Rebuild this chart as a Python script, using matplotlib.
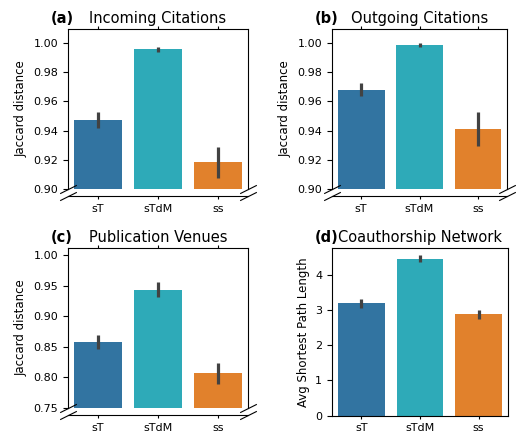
import matplotlib
matplotlib.use("Agg")
import matplotlib.pyplot as plt
import numpy as np

plt.rcParams['font.family'] = ['DejaVu Sans']

groups = ["sT", "sTdM", "ss"]
colors = ["#3274a1", "#2eaab8", "#e1812c"]

# bar heights and error bar ranges (low, high)
incoming = [0.9475, 0.9958, 0.9185]
incoming_err = [(0.9418, 0.9527), (0.9937, 0.9975), (0.9075, 0.9290)]

outgoing = [0.968, 0.9988, 0.9414]
outgoing_err = [(0.9636, 0.9725), (0.9975, 0.9998), (0.9293, 0.9530)]

venues = [0.858, 0.944, 0.807]
venues_err = [(0.847, 0.869), (0.931, 0.956), (0.790, 0.823)]

coauthor = [3.19, 4.45, 2.88]
coauthor_err = [(3.07, 3.31), (4.35, 4.57), (2.75, 3.00)]

W, H = 516, 433
fig = plt.figure(figsize=(W / 100, H / 100), dpi=100)


def px_axes(left, top, right, bottom):
    return fig.add_axes([left / W, 1 - bottom / H, (right - left) / W, (bottom - top) / H])


def draw_bars(ax, vals, errs):
    x = np.arange(len(groups))
    ax.bar(x, vals, width=0.8, color=colors, zorder=2)
    for xi, (lo, hi) in zip(x, errs):
        ax.plot([xi, xi], [lo, hi], color="#424242", lw=2.3, solid_capstyle="butt", zorder=3)
    ax.set_xlim(-0.5, 2.5)


def add_title(ax, tag, title):
    ax.set_title(title, fontsize=10.5, pad=4)
    ax.annotate(tag, xy=(-17 / (ax.get_position().width * W), 1.0), xycoords="axes fraction",
                xytext=(0, 4), textcoords="offset points",
                fontsize=10.5, fontweight="bold", ha="left", va="baseline")


def broken_panel(left, top, right, bottom, vals, errs, ylim, yticks, tag, title):
    ax = px_axes(left, top, right, bottom)
    draw_bars(ax, vals, errs)
    ax.set_ylim(*ylim)
    ax.set_yticks(yticks)
    ax.set_yticklabels([f"{t:.2f}" for t in yticks], fontsize=8)
    ax.set_ylabel("Jaccard distance", fontsize=8.5)
    ax.spines["bottom"].set_visible(False)
    ax.xaxis.tick_top()
    ax.set_xticks(range(len(groups)))
    ax.tick_params(axis="x", labeltop=False, length=2.5)
    for s in ax.spines.values():
        s.set_linewidth(0.8)
    add_title(ax, tag, title)

    axb = px_axes(left, bottom + 5, right, bottom + 7)
    axb.set_xlim(-0.5, 2.5)
    axb.set_ylim(0, 1)
    axb.set_yticks([])
    axb.set_xticks(range(len(groups)))
    axb.set_xticklabels(groups, fontsize=8)
    axb.tick_params(axis="x", length=2.5, pad=3)
    for side in ["top", "left", "right"]:
        axb.spines[side].set_visible(False)
    axb.spines["bottom"].set_linewidth(0.8)
    axb.patch.set_visible(False)

    d = 0.5
    kw = dict(marker=[(-1, -d), (1, d)], markersize=12, linestyle="none",
              color="k", mec="k", mew=0.8, clip_on=False)
    ax.plot([0, 1], [0, 0], transform=ax.transAxes, **kw)
    axb.plot([0, 1], [0, 0], transform=axb.transAxes, **kw)
    return ax


broken_panel(68, 29, 248, 189, incoming, incoming_err, (0.90, 1.0095),
             [0.90, 0.92, 0.94, 0.96, 0.98, 1.00], "(a)", "Incoming Citations")
broken_panel(332, 29, 507, 189, outgoing, outgoing_err, (0.90, 1.0095),
             [0.90, 0.92, 0.94, 0.96, 0.98, 1.00], "(b)", "Outgoing Citations")
broken_panel(68, 248, 248, 408, venues, venues_err, (0.75, 1.012),
             [0.75, 0.80, 0.85, 0.90, 0.95, 1.00], "(c)", "Publication Venues")

axd = px_axes(332, 248, 508, 415.7)
draw_bars(axd, coauthor, coauthor_err)
axd.set_ylim(0, 4.76)
axd.set_yticks([0, 1, 2, 3, 4])
axd.set_xticks(range(len(groups)))
axd.set_xticklabels(groups, fontsize=8)
axd.tick_params(axis="y", labelsize=8)
axd.tick_params(axis="x", length=2.5, pad=3)
axd.set_ylabel("Avg Shortest Path Length", fontsize=8.5)
for s in axd.spines.values():
    s.set_linewidth(0.8)
add_title(axd, "(d)", "Coauthorship Network")

fig.savefig("out.png", dpi=100)
